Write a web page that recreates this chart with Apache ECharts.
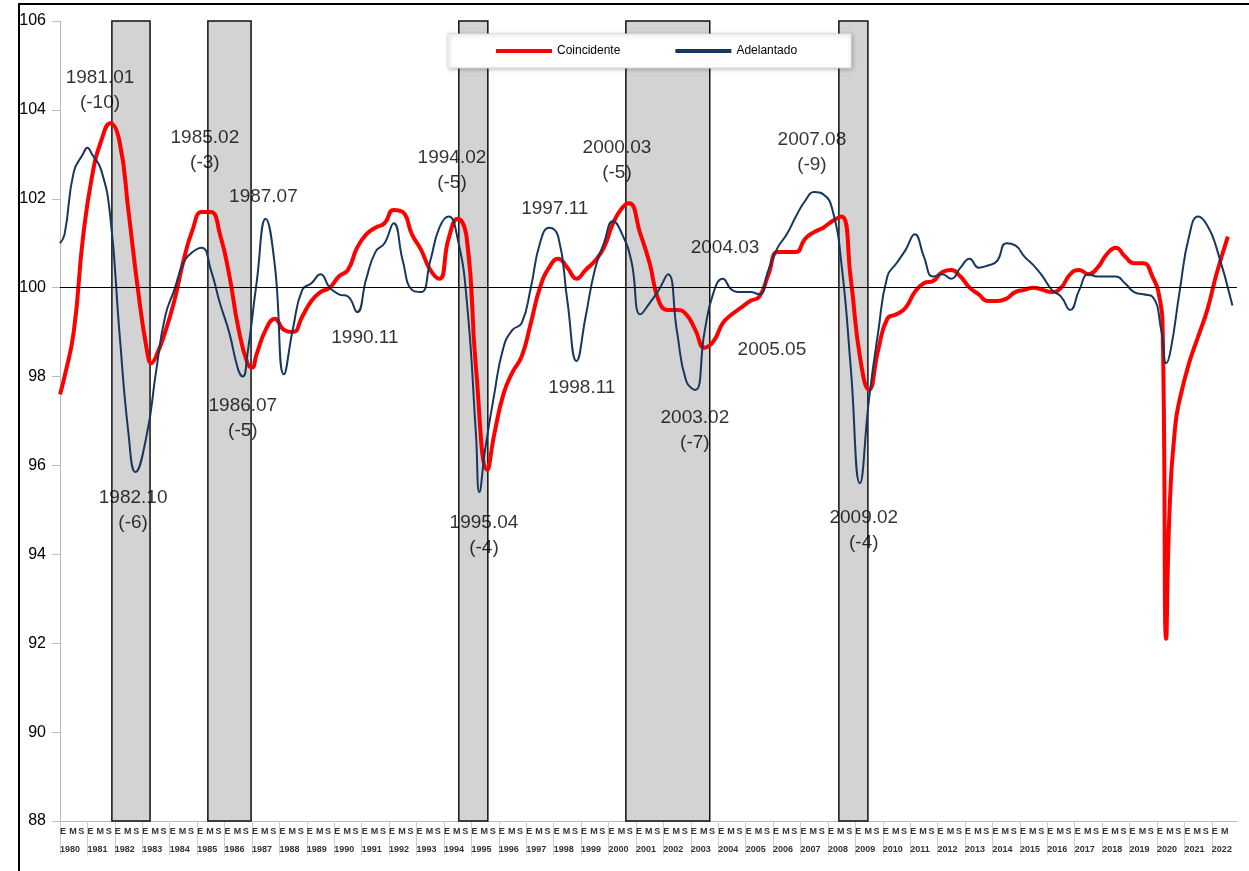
<!DOCTYPE html>
<html lang="es">
<head>
    <meta charset="UTF-8">
    <title>Indicadores Coincidente y Adelantado</title>
    <script src="https://cdn.jsdelivr.net/npm/echarts@6/dist/echarts.min.js"></script>
    <style>
        html,body{margin:0;padding:0;background:#fff;}
        #chart{width:1249px;height:871px;}
        .frame{position:absolute;left:18px;top:3px;width:1240px;height:880px;border-left:2px solid #000;border-top:2px solid #000;pointer-events:none;}
    </style>
</head>
<body>
<div id="chart"></div>
<div class="frame"></div>
<script>
    // x = months since 1980.01
    const coincidente = [
        [0,97.6],[2,98.0],[6,99.0],[10,101.1],[14,102.5],[18,103.3],[22,103.7],[26,103.3],[30,101.7],[34,100.0],[38,98.6],[40,98.3],[42,98.45],
        [46,99.0],[50,99.7],[54,100.6],[58,101.3],[62,101.7],[66,101.7],[70,101.2],[74,100.3],[78,99.1],[82,98.3],[84,98.2],[86,98.5],
        [90,99.05],[94,99.3],[98,99.05],[102,99.0],[106,99.35],[110,99.7],[114,99.9],[118,100.0],[122,100.25],[126,100.4],[130,100.9],
        [134,101.2],[138,101.35],[142,101.45],[146,101.75],[150,101.7],[154,101.2],[158,100.85],[162,100.4],[166,100.2],[170,101.1],
        [174,101.55],[178,101.1],[182,98.2],[187,95.9],[190,96.7],[194,97.6],[198,98.1],[202,98.45],[206,99.2],[210,100.0],[214,100.45],
        [218,100.65],[222,100.45],[226,100.2],[230,100.4],[234,100.6],[238,100.9],[242,101.45],[246,101.8],[249,101.9],[254,101.2],
        [258,100.55],[262,99.7],[266,99.5],[270,99.5],[274,99.4],[278,99.05],[282,98.65],[286,98.8],[290,99.2],[294,99.4],[298,99.55],
        [302,99.7],[306,99.8],[310,100.3],[314,100.8],[318,100.8],[322,100.8],[326,101.1],[330,101.25],[334,101.35],[338,101.5],
        [342,101.6],[346,100.2],[350,98.45],[354,97.7],[358,98.6],[362,99.3],[366,99.4],[370,99.55],[374,99.9],[378,100.1],[382,100.15],
        [386,100.35],[390,100.4],[394,100.25],[398,100.0],[402,99.85],[406,99.7],[410,99.7],[414,99.75],[418,99.9],[422,99.95],[426,100.0],
        [430,99.95],[434,99.9],[438,100.0],[442,100.3],[446,100.4],[450,100.3],[454,100.45],[458,100.75],[462,100.9],[466,100.7],
        [470,100.55],[474,100.55],[478,100.25],[481,99.8],[482.5,99.0],[484,92.1],[485.5,95.0],[488,96.9],[490,97.5],[494,98.3],
        [498,98.9],[502,99.5],[506,100.3],[511,101.15]
    ];
    const adelantado = [
        [0,101.0],[2,101.2],[6,102.6],[10,103.0],[12,103.15],[14,103.0],[18,102.65],[22,101.6],[26,99.0],[30,96.7],[33,95.85],[38,96.7],
        [42,98.1],[46,99.35],[50,99.95],[54,100.55],[58,100.8],[62,100.9],[66,100.4],[70,99.65],[74,99.0],[78,98.15],[80,98.0],[82,98.5],
        [86,100.1],[90,101.55],[94,100.5],[98,98.05],[102,99.1],[106,99.95],[110,100.1],[114,100.3],[118,100.0],[122,99.85],[126,99.8],
        [130,99.45],[134,100.2],[138,100.8],[142,101.0],[146,101.45],[150,100.6],[154,99.95],[158,99.9],[162,100.6],[166,101.35],
        [170,101.6],[174,101.1],[178,99.7],[182,96.7],[183.5,95.4],[186,96.35],[190,97.6],[194,98.65],[198,99.05],[202,99.2],[206,100.0],
        [210,101.0],[214,101.35],[218,101.15],[222,99.7],[226,98.35],[230,99.35],[234,100.4],[238,101.0],[242,101.5],[246,101.2],
        [250,100.6],[254,99.4],[258,99.65],[262,99.95],[266,100.3],[270,99.0],[274,97.9],[278,97.7],[282,99.0],[286,99.9],[290,100.2],
        [294,99.95],[298,99.9],[302,99.9],[306,99.85],[310,100.4],[314,100.9],[318,101.2],[322,101.6],[326,101.95],[330,102.15],
        [334,102.1],[338,101.75],[342,100.5],[346,98.2],[350,95.6],[354,97.5],[358,99.0],[362,100.25],[366,100.55],[370,100.85],
        [374,101.2],[378,100.7],[382,100.25],[386,100.3],[390,100.2],[394,100.45],[398,100.65],[402,100.45],[406,100.5],[410,100.6],
        [414,101.0],[418,100.95],[422,100.7],[426,100.5],[430,100.25],[434,99.95],[438,99.8],[442,99.5],[446,99.95],[450,100.3],
        [454,100.25],[458,100.25],[462,100.25],[466,100.1],[470,99.9],[474,99.85],[478,99.8],[482,99.0],[484,98.3],[486,98.6],
        [490,99.95],[494,101.15],[498,101.6],[502,101.4],[506,100.9],[513,99.6]
    ];
    const recesiones = [[22.7,39.4],[64.7,83.6],[174.5,187.2],[247.6,284.3],[340.8,353.5]];
    const anotaciones = [
        [17.5,104.45,'1981.01\n(-10)'],[32,95.0,'1982.10\n(-6)'],[63.4,103.1,'1985.02\n(-3)'],[80,97.07,'1986.07\n(-5)'],
        [89,102.04,'1987.07'],[133.4,98.87,'1990.11'],[171.5,102.65,'1994.02\n(-5)'],[185.5,94.43,'1995.04\n(-4)'],
        [216.5,101.77,'1997.11'],[228.3,97.74,'1998.11'],[243.7,102.87,'2000.03\n(-5)'],[277.8,96.8,'2003.02\n(-7)'],
        [291,100.9,'2004.03'],[311.5,98.6,'2005.05'],[329,103.05,'2007.08\n(-9)'],[351.7,94.55,'2009.02\n(-4)']
    ];
    const mesLetras = ['E','M','S'];
    const xMax = 515;

    const chart = echarts.init(document.getElementById('chart'));
    const option = {
        animation: false,
        textStyle: {fontFamily: 'Liberation Sans, Arial, sans-serif'},
        grid: {left: 60, right: 12, top: 21, bottom: 50},
        legend: {
            left: 448, top: 34, width: 403, height: 36,
            padding: [11, 54, 11, 48], itemGap: 55, itemWidth: 56, itemHeight: 4,
            backgroundColor: '#fff', borderColor: '#ddd', borderWidth: 1,
            shadowColor: 'rgba(0,0,0,0.25)', shadowBlur: 4, shadowOffsetX: 1, shadowOffsetY: 1,
            textStyle: {fontSize: 12, color: '#000'},
            data: [
                {name: 'Coincidente', icon: 'rect', itemStyle: {color: '#ff0000'}},
                {name: 'Adelantado', icon: 'rect', itemStyle: {color: '#17375e'}}
            ]
        },
        xAxis: [{
            type: 'value', min: 0, max: xMax, interval: 4,
            axisLine: {lineStyle: {color: '#bbb'}},
            axisTick: {show: false},
            splitLine: {show: false},
            axisLabel: {
                showMaxLabel: false, align: 'left', margin: 6,
                fontSize: 9, fontWeight: 'bold', color: '#333',
                formatter: v => v >= 510 ? '' : mesLetras[(v % 12) / 4]
            }
        }, {
            type: 'value', min: 0, max: xMax, interval: 12, position: 'bottom',
            axisLine: {show: false},
            axisTick: {length: 34, lineStyle: {color: '#ccc'}},
            splitLine: {show: false},
            axisLabel: {
                showMaxLabel: false, align: 'left', margin: 24,
                fontSize: 9, fontWeight: 'bold', color: '#333',
                formatter: v => String(1980 + v / 12)
            }
        }],
        yAxis: {
            type: 'value', min: 88, max: 106, interval: 2,
            axisLine: {show: true, lineStyle: {color: '#bbb'}},
            axisTick: {show: true, length: 8, lineStyle: {color: '#bbb'}},
            splitLine: {show: false},
            axisLabel: {fontSize: 16, color: '#000', margin: 14}
        },
        series: [{
            name: 'recesiones', type: 'line', data: [], z: 1,
            markArea: {
                silent: true,
                itemStyle: {color: '#d3d3d3', borderColor: '#111', borderWidth: 1.5},
                data: recesiones.map(r => [{xAxis: r[0]}, {xAxis: r[1]}])
            },
            markLine: {
                silent: true, symbol: 'none', label: {show: false},
                lineStyle: {color: '#000', width: 1, type: 'solid'},
                data: [{yAxis: 100}]
            }
        }, {
            name: 'Coincidente', type: 'line', data: coincidente, z: 3,
            smooth: 0.5, showSymbol: false,
            lineStyle: {color: '#ff0000', width: 4}, itemStyle: {color: '#ff0000'}
        }, {
            name: 'Adelantado', type: 'line', data: adelantado, z: 4,
            smooth: 0.5, showSymbol: false,
            lineStyle: {color: '#17375e', width: 2}, itemStyle: {color: '#17375e'}
        }, {
            name: 'anotaciones', type: 'scatter', z: 5, symbolSize: 0, silent: true,
            data: anotaciones.map(a => ({value: [a[0], a[1]], label: {formatter: a[2]}})),
            label: {show: true, position: 'inside', fontSize: 19, color: '#000', lineHeight: 25, align: 'center'}
        }]
    };
    chart.setOption(option);
</script>
</body>
</html>
